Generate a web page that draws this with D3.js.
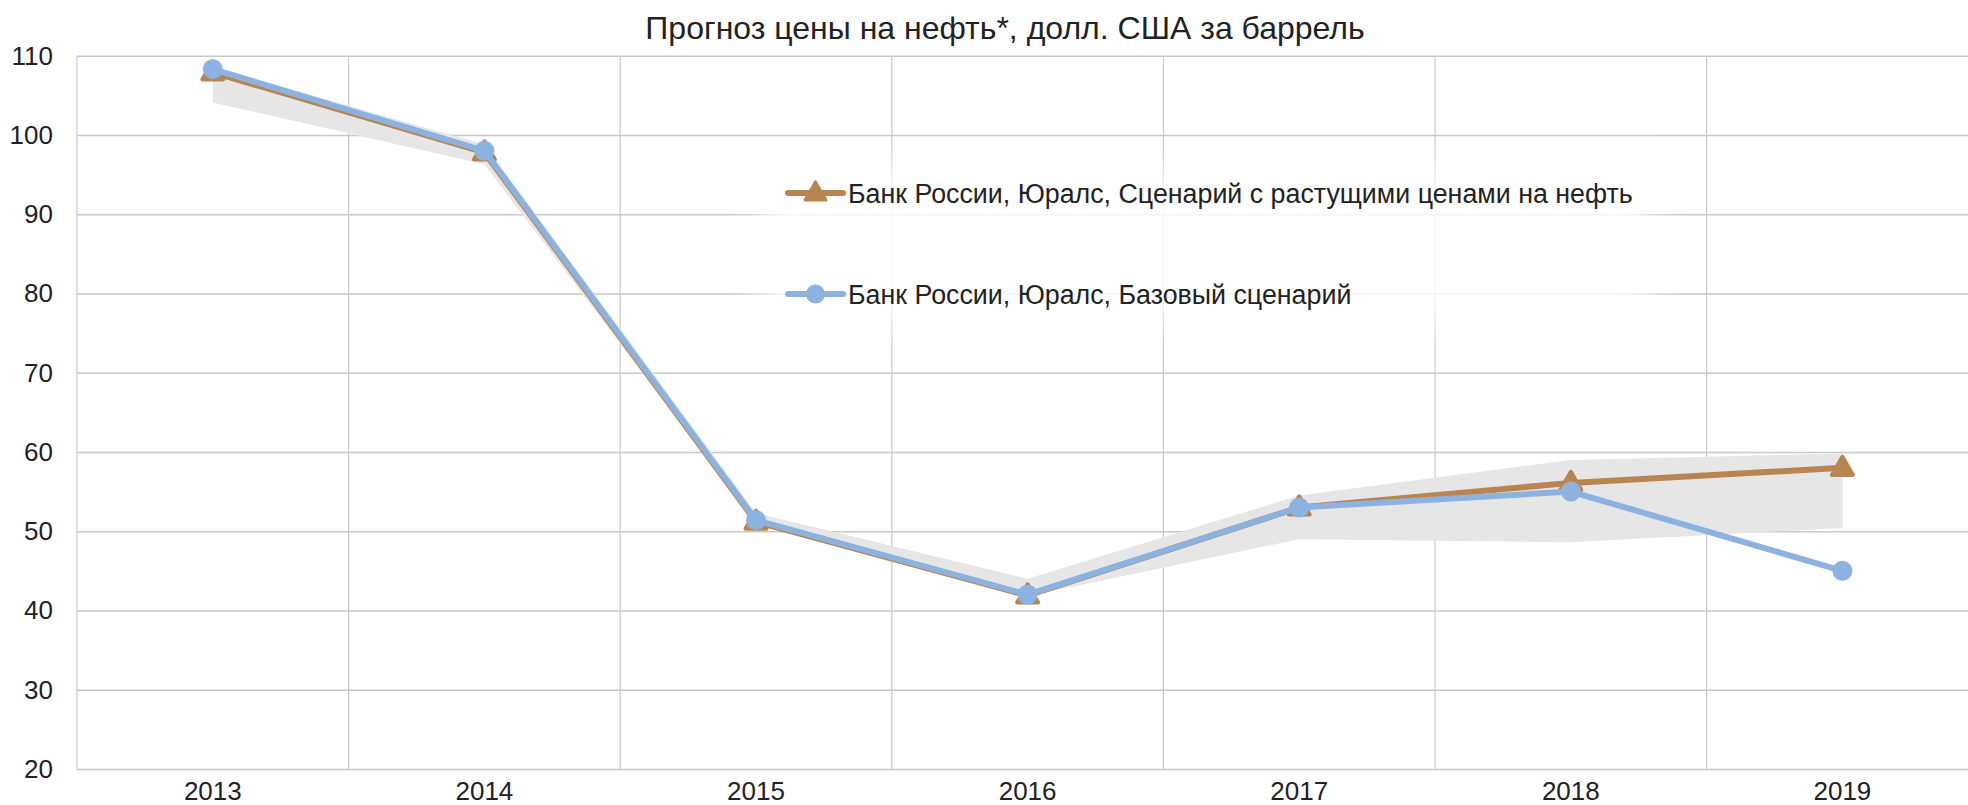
<!DOCTYPE html>
<html>
<head>
<meta charset="utf-8">
<script src="https://cdn.jsdelivr.net/npm/d3@7"></script>
<style>
  body { margin: 0; background: #fff; }
  svg { display: block; font-family: "Liberation Sans", Arial, sans-serif; }
</style>
</head>
<body>
<svg id="chart" width="1968" height="805"></svg>
<script>
const years = ["2013", "2014", "2015", "2016", "2017", "2018", "2019"];
// Банк России, Юралс, Сценарий с растущими ценами на нефть
const risingValues = [107.9, 97.8, 51.2, 41.9, 53.0, 56.1, 58.0];
// Банк России, Юралс, Базовый сценарий
const baseValues = [108.3, 98.0, 51.4, 42.0, 53.0, 55.0, 45.0];
// grey range behind the lines
const bandUpper = [108.6, 98.8, 52.3, 44.0, 54.5, 59.0, 59.8];
const bandLower = [104.1, 96.3, 51.0, 41.8, 49.0, 48.6, 50.4];
const yTicks = [20, 30, 40, 50, 60, 70, 80, 90, 100, 110];

const svg = d3.select("#chart");
const margin = { top: 55.7, left: 77 };
const bandW = 271.6;
const plotW = bandW * years.length;
const plotH = 769 - margin.top;

const g = svg.append("g")
    .attr("transform", "translate(" + margin.left + "," + margin.top + ")");

const x = d3.scaleBand().domain(years).range([0, plotW]).padding(0);
const y = d3.scaleLinear().domain([20, 110]).range([plotH, 0]);
const cx = d => x(d) + x.bandwidth() / 2;

const gridColor = "#c8c8c8";

// horizontal grid
g.append("g")
    .call(d3.axisLeft(y).tickValues(yTicks).tickSize(-plotW).tickFormat(""))
    .call(s => s.select(".domain").remove())
    .selectAll("line").attr("stroke", gridColor).attr("stroke-width", 1.4);

// vertical grid at category boundaries
g.append("g")
    .selectAll("line")
    .data(years)
    .join("line")
    .attr("x1", d => x(d)).attr("x2", d => x(d))
    .attr("y1", 0).attr("y2", plotH)
    .attr("stroke", gridColor).attr("stroke-width", 1.2);

// y labels
g.append("g")
    .call(d3.axisLeft(y).tickValues(yTicks).tickSize(0).tickPadding(24))
    .call(s => s.select(".domain").remove())
    .selectAll("text")
    .attr("font-size", "26px")
    .attr("font-family", "Liberation Sans, Arial, sans-serif")
    .attr("fill", "#222");

// x labels
g.append("g")
    .attr("transform", "translate(0," + plotH + ")")
    .call(d3.axisBottom(x).tickSize(0).tickPadding(13))
    .call(s => s.select(".domain").remove())
    .selectAll("text")
    .attr("font-size", "26px")
    .attr("font-family", "Liberation Sans, Arial, sans-serif")
    .attr("fill", "#222");

// grey range
const bandData = years.map((d, i) => ({ year: d, hi: bandUpper[i], lo: bandLower[i] }));
g.append("path")
    .datum(bandData)
    .attr("fill", "#e6e6e6")
    .attr("d", d3.area().x(d => cx(d.year)).y0(d => y(d.lo)).y1(d => y(d.hi)));

const series = [
  { name: "Банк России, Юралс, Сценарий с растущими ценами на нефть", values: risingValues, color: "#b8844f", marker: "triangle" },
  { name: "Банк России, Юралс, Базовый сценарий", values: baseValues, color: "#8cb3e0", marker: "circle" }
];

const line = d3.line().x(d => cx(d.year)).y(d => y(d.value));
const triangle = d3.symbol().type(d3.symbolTriangle).size(190);

series.forEach(s => {
  const pts = years.map((d, i) => ({ year: d, value: s.values[i] }));
  g.append("path")
      .datum(pts)
      .attr("fill", "none")
      .attr("stroke", s.color)
      .attr("stroke-width", 6)
      .attr("stroke-linejoin", "round")
      .attr("d", line);
  if (s.marker === "circle") {
    g.selectAll(null).data(pts).join("circle")
        .attr("cx", d => cx(d.year)).attr("cy", d => y(d.value))
        .attr("r", 10).attr("fill", s.color);
  } else {
    g.selectAll(null).data(pts).join("path")
        .attr("transform", d => "translate(" + cx(d.year) + "," + (y(d.value) + 1) + ")")
        .attr("d", triangle)
        .attr("fill", s.color).attr("stroke", s.color)
        .attr("stroke-width", 4).attr("stroke-linejoin", "round");
  }
});

// legend with soft white backdrop
const defs = svg.append("defs");
defs.append("filter").attr("id", "soft")
    .attr("x", "-20%").attr("y", "-40%").attr("width", "140%").attr("height", "180%")
    .append("feGaussianBlur").attr("stdDeviation", 18);

svg.append("rect")
    .attr("x", 760).attr("y", 168).attr("width", 890).attr("height", 155)
    .attr("fill", "#fff").attr("opacity", 0.85)
    .attr("filter", "url(#soft)");

const legend = svg.append("g").attr("transform", "translate(788,193)");
series.forEach((s, i) => {
  const row = legend.append("g").attr("transform", "translate(0," + i * 101 + ")");
  row.append("line")
      .attr("x1", 0).attr("x2", 55).attr("y1", 0).attr("y2", 0)
      .attr("stroke", s.color).attr("stroke-width", 6).attr("stroke-linecap", "round");
  if (s.marker === "circle") {
    row.append("circle").attr("cx", 27.5).attr("cy", 0).attr("r", 9.5).attr("fill", s.color);
  } else {
    row.append("path").attr("transform", "translate(27.5,1)")
        .attr("d", triangle).attr("fill", s.color).attr("stroke", s.color)
        .attr("stroke-width", 3).attr("stroke-linejoin", "round");
  }
  row.append("text")
      .attr("x", 60).attr("y", 9.5)
      .attr("font-size", "26.8px")
      .attr("fill", "#222")
      .text(s.name);
});

// title
svg.append("text")
    .attr("x", 1005).attr("y", 39)
    .attr("text-anchor", "middle")
    .attr("font-size", "32px")
    .attr("fill", "#222")
    .text("Прогноз цены на нефть*, долл. США за баррель");
</script>
</body>
</html>
